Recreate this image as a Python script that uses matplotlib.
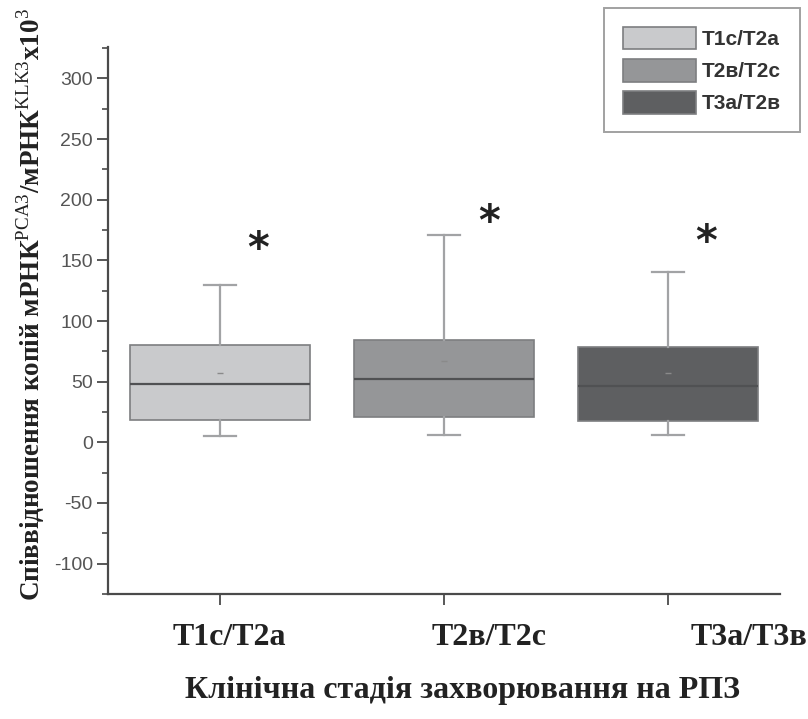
import matplotlib
matplotlib.use("Agg")
import matplotlib.pyplot as plt
from matplotlib.patches import Patch
from matplotlib.transforms import blended_transform_factory

plt.rcParams["font.family"] = ["Liberation Sans", "DejaVu Sans"]
plt.rcParams["axes.unicode_minus"] = False
plt.rcParams["mathtext.fontset"] = "custom"
plt.rcParams["mathtext.rm"] = "Liberation Serif"
plt.rcParams["mathtext.bf"] = "Liberation Serif:bold"

# data
stages = ["T1c/T2a", "T2в/T2c", "T3a/T3в"]
legend_labels = ["T1c/T2a", "T2в/T2c", "T3a/T2в"]
whislo = [5.4, 6.0, 6.0]
q1 = [18.6, 20.5, 17.3]
median = [48.5, 52.6, 46.5]
mean = [57.0, 67.0, 57.0]
q3 = [80.2, 84.3, 78.6]
whishi = [130.0, 170.6, 140.2]
star_x = [1.17, 2.2, 3.17]
star_y = [159, 181, 164]

fills = ["#c9cacc", "#959698", "#5e5f61"]
SPINE = "#4a4a4a"

fig = plt.figure(figsize=(8.08, 7.19), dpi=100)
ax = fig.add_axes([0.1337, 0.1739, 0.8317, 0.7608])

stats = [
    {"whislo": whislo[i], "q1": q1[i], "med": median[i], "mean": mean[i],
     "q3": q3[i], "whishi": whishi[i], "fliers": []}
    for i in range(3)
]
bp = ax.bxp(
    stats, positions=[1, 2, 3], widths=0.8, patch_artist=True, showmeans=True,
    boxprops={"linewidth": 1.2, "edgecolor": "#7d7e80"},
    medianprops={"color": "#505153", "linewidth": 1.6},
    whiskerprops={"color": "#a2a3a5", "linewidth": 1.6},
    capprops={"color": "#a2a3a5", "linewidth": 1.6},
    meanprops={"marker": "_", "markeredgecolor": "#8a8a8a", "markersize": 4},
    capwidths=0.14,
)
for patch, c in zip(bp["boxes"], fills):
    patch.set_facecolor(c)

for x, y in zip(star_x, star_y):
    ax.text(x, y, "*", ha="center", va="center", fontsize=30,
            fontweight="bold", color="#222222", family="DejaVu Sans")

ax.set_xlim(0.5, 3.5)
ax.set_ylim(-125, 326)
ax.set_yticks(range(-100, 301, 50))
ax.set_yticks(range(-125, 326, 25), minor=True)
ax.set_xticks([1, 2, 3], ["", "", ""])
ax.tick_params(axis="y", which="major", length=8, width=1.3, color=SPINE,
               labelsize=14, labelcolor="#555555", pad=3)
ax.tick_params(axis="y", which="minor", length=4, width=1.2, color=SPINE)
ax.tick_params(axis="x", length=8, width=1.3, color=SPINE)
for side in ("top", "right"):
    ax.spines[side].set_visible(False)
for side in ("left", "bottom"):
    ax.spines[side].set_color(SPINE)
    ax.spines[side].set_linewidth(1.6)

label_x = [1.04, 2.2, 3.36]
trans = blended_transform_factory(ax.transData, fig.transFigure)
for x, lab in zip(label_x, stages):
    ax.text(x, 0.114, lab, transform=trans, ha="center", va="center",
            fontsize=23, fontweight="bold", family="Liberation Serif", color="#222222")

fig.text(0.573, 0.04, "Клінічна стадія захворювання на РПЗ", ha="center", va="center",
         fontsize=23, fontweight="bold", family="Liberation Serif", color="#222222")

fig.text(0.038, 0.576,
         r"Співвідношення копій мРНК$^{\mathrm{PCA3}}$/мРНК$^{\mathrm{KLK3}}$x10$^{\mathrm{3}}$",
         rotation=90, ha="center", va="center", fontsize=19.5, fontweight="bold",
         family="Liberation Serif", color="#222222")

handles = [Patch(facecolor=c, edgecolor="#7d7e80", linewidth=1.2) for c in fills]
leg = fig.legend(handles, legend_labels, loc="upper right",
                 bbox_to_anchor=(800 / 808, 1 - 8 / 719), frameon=True, fancybox=False,
                 prop={"size": 15, "weight": "bold"}, handlelength=3.5, handleheight=1.3,
                 handletextpad=0.3, labelspacing=0.45, borderpad=0.9, borderaxespad=0)
leg.get_frame().set_edgecolor("#8a8a8a")
leg.get_frame().set_linewidth(1.4)
for t in leg.get_texts():
    t.set_color("#333333")

fig.savefig("out.png", dpi=100)
